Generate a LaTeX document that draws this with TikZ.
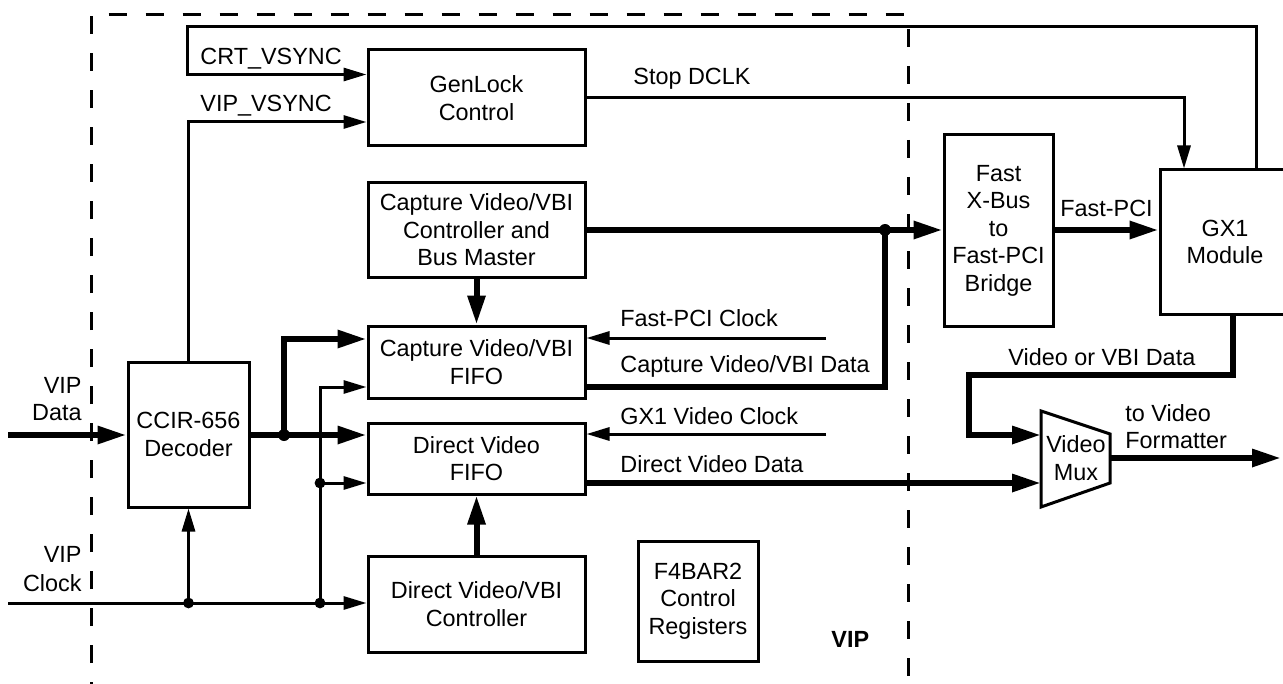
\documentclass[tikz,border=0pt]{standalone}
\usepackage{fontspec}
\setmainfont{Liberation Sans}
\usetikzlibrary{arrows.meta}
\begin{document}
\begin{tikzpicture}[x=0.5pt,y=-0.5pt,
  txt/.style={font=\fontsize{11.7}{13.75}\selectfont, inner sep=0pt},
  box/.style={txt, draw, line width=1.5pt, align=center},
  thinw/.style={line width=1.5pt, -{Triangle[length=11.5pt,width=6.5pt]}},
  thickw/.style={line width=3pt, -{Triangle[length=14.5pt,width=8.5pt]}},
  thinl/.style={line width=1.5pt},
  thickl/.style={line width=3pt},
  lbl/.style={txt, anchor=base west},
  lblr/.style={txt, anchor=base east},
  bigdot/.style={fill=black},
]
\useasboundingbox (0,0) rectangle (1283,684);
\clip (0,0) rectangle (1283,684);

% VIP boundary
\draw[line width=1.5pt, dash pattern=on 9pt off 9.5pt] (91,700) -- (91,14.5) -- (908,14.5) -- (908,700);

% boxes
\node[box, minimum width=108.5pt, minimum height=48pt] (gen) at (476.5,98) {GenLock\\Control};
\node[box, minimum width=108.5pt, minimum height=47pt] (ctrl) at (476.5,230) {Capture Video/VBI\\Controller and\\Bus Master};
\node[box, minimum width=108.5pt, minimum height=36pt] (cfifo) at (476.5,362) {Capture Video/VBI\\FIFO};
\node[box, minimum width=108.5pt, minimum height=35.5pt] (dfifo) at (476.5,458.5) {Direct Video\\FIFO};
\node[box, minimum width=108.5pt, minimum height=48pt] (dctl) at (476.5,604) {Direct Video/VBI\\Controller};
\node[box, minimum width=60pt, minimum height=60pt] (f4) at (698,601) {F4BAR2\\Control\\Registers};
\node[box, minimum width=60.5pt, minimum height=72.5pt] (ccir) at (188.5,434.5) {CCIR-656\\Decoder};
\node[box, minimum width=54.5pt, minimum height=95.5pt] (bridge) at (998.5,230.5) {Fast\\X-Bus\\to\\Fast-PCI\\Bridge};
\node[box, minimum width=65pt, minimum height=72pt] (gx1) at (1225,242) {GX1\\Module};

% video mux
\coordinate (mA) at (1041,411);
\coordinate (mB) at (1110,434);
\coordinate (mC) at (1110,483);
\coordinate (mD) at (1041,507);
\draw[line width=1.5pt] (mA) -- (mB) -- (mC) -- (mD) -- cycle;
\node[txt, align=center] (mux) at (1076,458) {Video\\Mux};

% junctions
\coordinate (j1) at (885,230);
\coordinate (j2) at (284,435);
\coordinate (j3) at (188.5,603);
\coordinate (j4) at (320,603);
\coordinate (j5) at (320,483);
\coordinate (vdin) at (8,435);
\coordinate (vcin) at (8,603);
\coordinate (fpclk) at (826,338);
\coordinate (gxclk) at (826,434);
\coordinate (fmt) at (1281,458);

% CRT_VSYNC
\draw[thinw] (gx1.north -| 1256,0) -- (1256,26.5) -| (187,74.5) -- (gen.west |- 0,74.5);
\node[lbl] (crt) at (200,65) {CRT\_VSYNC};
% VIP_VSYNC
\draw[thinw] (ccir.north) |- (gen.west |- 0,122);
\node[lbl] (vvs) at (200,112) {VIP\_VSYNC};
% Stop DCLK
\draw[thinw] (gen.east) -| (gx1.north -| 1184,0);
\node[lbl] (sd) at (633,85) {Stop DCLK};

% capture controller to bridge
\draw[thickw] (ctrl.east) -- (bridge.west |- ctrl.east);
\draw[thickl] (cfifo.east |- 0,387) -| (j1);
\fill (j1) circle (3pt);
\node[lbl] (cvd) at (620,372.5) {Capture Video/VBI Data};
% Fast-PCI
\draw[thickw] (bridge.east |- 0,230) -- (gx1.west |- 0,230);
\node[lbl] (fp) at (1060,216.5) {Fast-PCI};
% controller to FIFO
\draw[thickw] (ctrl.south) -- (cfifo.north);
% clocks
\draw[thinw] (fpclk) -- (cfifo.east |- fpclk);
\node[lbl] (fpc) at (620,326) {Fast-PCI Clock};
\draw[thinw] (gxclk) -- (dfifo.east |- gxclk);
\node[lbl] (gxc) at (620,424.5) {GX1 Video Clock};
% direct video data
\draw[thickw] (dfifo.east |- 0,483) -- (mD |- 0,483);
\node[lbl] (dvd) at (620,472.5) {Direct Video Data};
% video or VBI data
\draw[thickw] (gx1.south -| 1233,0) |- (969,375) |- (mA |- 0,435);
\node[lbl] (vvd) at (1008,365) {Video or VBI Data};
% to formatter
\draw[thickw] (mB |- 0,458) -- (fmt);
\node[lbl] (tv1) at (1125,421) {to Video};
\node[lbl] (tv2) at (1125,448) {Formatter};

% VIP data input
\draw[thickw] (vdin) -- (ccir.west |- vdin);
\node[lblr] (vd1) at (82,393) {VIP};
\node[lblr] (vd2) at (82,420) {Data};
\draw[thickw] (ccir.east |- j2) -- (dfifo.west |- j2);
\draw[thickw] (j2) |- (cfifo.west |- 0,339);
\fill (j2) circle (3pt);

% VIP clock
\draw[thinw] (vcin) -- (dctl.west |- vcin);
\node[lblr] (vc1) at (82,562) {VIP};
\node[lblr] (vc2) at (82,591) {Clock};
\draw[thinw] (j3) -- (ccir.south);
\draw[thinw] (j4) |- (cfifo.west |- 0,387);
\draw[thinw] (j5) -- (dfifo.west |- j5);
\fill (j3) circle (2.7pt);
\fill (j4) circle (2.7pt);
\fill (j5) circle (2.7pt);
% direct controller to FIFO
\draw[thickw] (dctl.north) -- (dfifo.south);

% VIP label
\node[txt, font=\fontsize{11.7}{13.75}\selectfont\bfseries, anchor=base west] (vip) at (831,647) {VIP};
\end{tikzpicture}
\end{document}
